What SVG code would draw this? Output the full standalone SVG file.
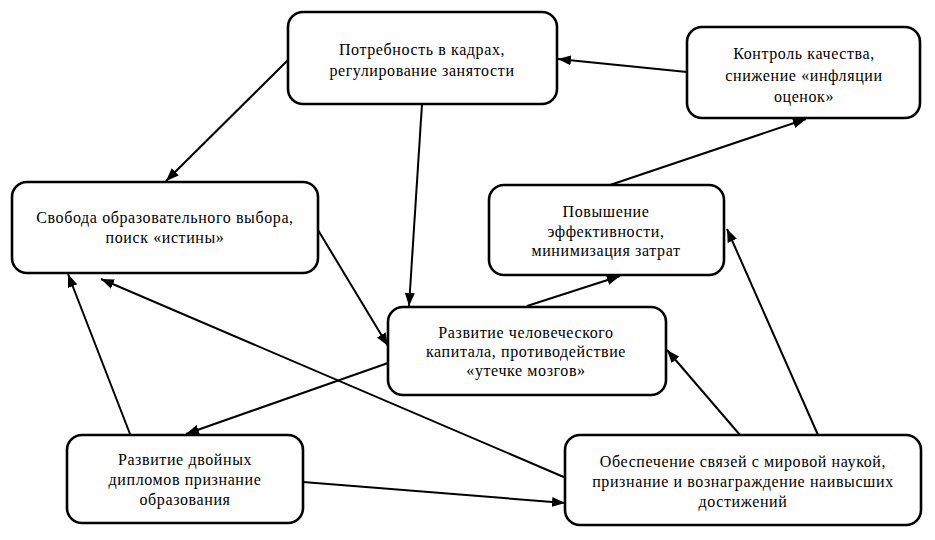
<svg xmlns="http://www.w3.org/2000/svg" width="935" height="540" viewBox="0 0 935 540">
<defs>
<style>
.box{fill:#fff;stroke:#000;stroke-width:2.6}
.t{font-family:"Liberation Serif","Times New Roman",serif;font-size:16px;letter-spacing:0.6px;fill:#000;text-anchor:middle}
.c{stroke:#000;stroke-width:2;fill:none;marker-end:url(#ah)}
</style>
<marker id="ah" markerUnits="userSpaceOnUse" markerWidth="14" markerHeight="10" refX="13" refY="5" orient="auto">
<path d="M0,0 L13,5 L0,10 Z" fill="#000"/>
</marker>
</defs>
<rect width="935" height="540" fill="#fff"/>
<g id="connectors">
<line class="c" x1="687" y1="72" x2="558" y2="59"/>
<line class="c" x1="288" y1="60" x2="166" y2="181"/>
<line class="c" x1="422" y1="104" x2="409" y2="306"/>
<line class="c" x1="610" y1="185" x2="806" y2="119"/>
<line class="c" x1="527" y1="306" x2="620" y2="276"/>
<line class="c" x1="318" y1="230" x2="388" y2="346"/>
<line class="c" x1="388" y1="363" x2="186" y2="434"/>
<line class="c" x1="130" y1="434" x2="68" y2="274"/>
<line class="c" x1="566" y1="478" x2="101" y2="279"/>
<line class="c" x1="303" y1="482" x2="565" y2="503"/>
<line class="c" x1="740" y1="435" x2="667" y2="350"/>
<line class="c" x1="818" y1="435" x2="727" y2="229"/>
</g>
<g id="n1">
<rect class="box" x="288" y="12" width="269" height="92" rx="15"/>
<text class="t" x="422" y="55">Потребность в кадрах,</text>
<text class="t" x="422" y="76">регулирование занятости</text>
</g>
<g id="n2">
<rect class="box" x="687" y="27" width="233" height="91" rx="15"/>
<text class="t" x="804" y="59">Контроль качества,</text>
<text class="t" x="804" y="81">снижение «инфляции</text>
<text class="t" x="804" y="102">оценок»</text>
</g>
<g id="n3">
<rect class="box" x="12" y="182" width="306" height="91" rx="15"/>
<text class="t" x="165" y="223">Свобода образовательного выбора,</text>
<text class="t" x="165" y="243">поиск «истины»</text>
</g>
<g id="n4">
<rect class="box" x="489" y="185" width="235" height="90" rx="15"/>
<text class="t" x="606" y="217">Повышение</text>
<text class="t" x="606" y="237">эффективности,</text>
<text class="t" x="606" y="256">минимизация затрат</text>
</g>
<g id="n5">
<rect class="box" x="388" y="307" width="278" height="88" rx="15"/>
<text class="t" x="526" y="338">Развитие человеческого</text>
<text class="t" x="526" y="357">капитала, противодействие</text>
<text class="t" x="526" y="376">«утечке мозгов»</text>
</g>
<g id="n6">
<rect class="box" x="67" y="435" width="236" height="88" rx="15"/>
<text class="t" x="185" y="465">Развитие двойных</text>
<text class="t" x="185" y="485">дипломов признание</text>
<text class="t" x="185" y="505">образования</text>
</g>
<g id="n7">
<rect class="box" x="565" y="435" width="356" height="90" rx="15"/>
<text class="t" x="743" y="467">Обеспечение связей с мировой наукой,</text>
<text class="t" x="743" y="487">признание и вознаграждение наивысших</text>
<text class="t" x="743" y="507">достижений</text>
</g>
</svg>
